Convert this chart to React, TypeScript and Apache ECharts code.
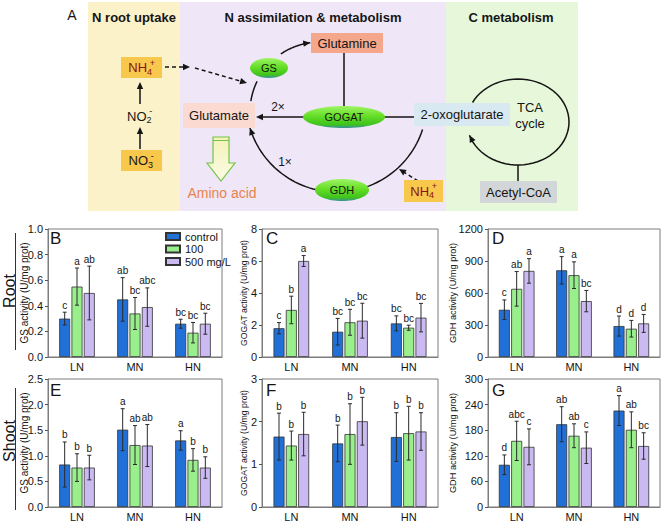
import React, { useEffect, useRef } from 'react';
import * as echarts from 'echarts';

const categories = ['LN', 'MN', 'HN'];
const treatments = ['control', '100', '500 mg/L'];

// rows: control, 100, 500 mg/L ; columns: LN, MN, HN
const rootGSMean = [[0.30, 0.45, 0.26], [0.55, 0.34, 0.19], [0.50, 0.39, 0.26]];
const rootGSErr = [[0.05, 0.17, 0.035], [0.145, 0.125, 0.08], [0.21, 0.15, 0.082]];
const rootGSLetters = [['c', 'ab', 'bc'], ['a', 'bc', 'bc'], ['ab', 'abc', 'bc']];

const rootGOGATMean = [[1.8, 1.58, 2.1], [2.94, 2.17, 1.83], [6.0, 2.27, 2.46]];
const rootGOGATErr = [[0.35, 0.83, 0.47], [0.86, 0.81, 0.16], [0.34, 1.09, 0.89]];
const rootGOGATLetters = [['c', 'bc', 'bc'], ['b', 'bc', 'bc'], ['a', 'bc', 'bc']];

const rootGDHMean = [[443, 813, 290], [639, 767, 265], [807, 524, 315]];
const rootGDHErr = [[92, 128, 94], [162, 125, 78], [115, 100, 84]];
const rootGDHLetters = [['c', 'a', 'd'], ['ab', 'a', 'd'], ['a', 'bc', 'd']];

const shootGSMean = [[0.83, 1.51, 1.30], [0.77, 1.21, 0.92], [0.77, 1.20, 0.77]];
const shootGSErr = [[0.44, 0.41, 0.19], [0.27, 0.38, 0.22], [0.24, 0.41, 0.21]];
const shootGSLetters = [['b', 'a', 'a'], ['b', 'ab', 'b'], ['b', 'ab', 'b']];

const shootGOGATMean = [[1.65, 1.49, 1.64], [1.44, 1.71, 1.73], [1.71, 2.01, 1.77]];
const shootGOGATErr = [[0.55, 0.43, 0.57], [0.34, 0.71, 0.63], [0.51, 0.56, 0.44]];
const shootGOGATLetters = [['b', 'b', 'b'], ['b', 'b', 'b'], ['b', 'b', 'b']];

const shootGDHMean = [[99, 194, 226], [155, 167, 181], [141, 139, 143]];
const shootGDHErr = [[23, 41, 35], [46, 28, 42], [42, 37, 31]];
const shootGDHLetters = [['d', 'ab', 'a'], ['abc', 'ab', 'ab'], ['c', 'c', 'bc']];

const panelLetters = ['B', 'C', 'D', 'E', 'F', 'G'];
const yAxisTitles = [
  'GS activity (U/mg prot)', 'GOGAT activity (U/mg prot)', 'GDH activity (U/mg prot)',
  'GS activity (U/mg prot)', 'GOGAT activity (U/mg prot)', 'GDH activity (U/mg prot)',
];
const yMaxima = [1.0, 8, 1200, 2.5, 3, 300];
const yIntervals = [0.2, 2, 300, 0.5, 1, 60];
const yDecimals = [1, 0, 0, 1, 0, 0];

const MEANS = [rootGSMean, rootGOGATMean, rootGDHMean, shootGSMean, shootGOGATMean, shootGDHMean];
const ERRS = [rootGSErr, rootGOGATErr, rootGDHErr, shootGSErr, shootGOGATErr, shootGDHErr];
const LETTERS = [rootGSLetters, rootGOGATLetters, rootGDHLetters, shootGSLetters, shootGOGATLetters, shootGDHLetters];

// layout
const GRIDS = [
  { left: 48, top: 229, width: 174, height: 128 },
  { left: 262, top: 229, width: 176, height: 128 },
  { left: 488, top: 229, width: 172, height: 128 },
  { left: 48, top: 379, width: 174, height: 129 },
  { left: 262, top: 379, width: 176, height: 129 },
  { left: 488, top: 379, width: 172, height: 129 },
];
const NAME_GAP = [19, 13.5, 30.5, 19, 13.5, 30.5];
const NAME_SIZE = [10, 8.7, 9.2, 10, 8.7, 9.2];
const BAR_COLORS = ['#2070d8', '#98ef8c', '#cbbaf2'];
const BAR_W = 11;
const BAR_GAP = 0.12;
const FAM = '"Liberation Sans", Arial, sans-serif';
const INK = '#151515';

let measureCtx: CanvasRenderingContext2D | null = null;
function measure(text: string, size: number, bold = false) {
  if (!measureCtx) measureCtx = document.createElement('canvas').getContext('2d');
  measureCtx!.font = `${bold ? 'bold ' : ''}${size}px ${FAM}`;
  return measureCtx!.measureText(text).width;
}

function txt(x: number, y: number, text: string, size: number, o: any = {}) {
  return {
    type: 'text', x, y, rotation: o.rotation || 0, silent: true,
    style: {
      text, fill: o.color || INK, fontSize: size, fontFamily: FAM,
      fontWeight: o.bold ? 'bold' : 'normal',
      align: o.align || 'center', verticalAlign: o.va || 'middle',
    },
  };
}
function rect(x: number, y: number, w: number, h: number, fill: string) {
  return { type: 'rect', silent: true, shape: { x, y, width: w, height: h }, style: { fill } };
}
function head(x: number, y: number, ang: number, len = 7, w = 3.2) {
  const bx = x - len * Math.cos(ang), by = y - len * Math.sin(ang);
  const px = -Math.sin(ang) * w, py = Math.cos(ang) * w;
  return { type: 'polygon', silent: true, shape: { points: [[x, y], [bx + px, by + py], [bx - px, by - py]] }, style: { fill: INK } };
}
function arrow(x1: number, y1: number, x2: number, y2: number, dashed = false) {
  const ang = Math.atan2(y2 - y1, x2 - x1);
  const ex = x2 - 6 * Math.cos(ang), ey = y2 - 6 * Math.sin(ang);
  return [
    { type: 'line', silent: true, shape: { x1, y1, x2: ex, y2: ey }, style: { stroke: INK, lineWidth: 1.5, lineDash: dashed ? [4, 3] : null } },
    head(x2, y2, ang),
  ];
}
function line(x1: number, y1: number, x2: number, y2: number, w = 1.5) {
  return { type: 'line', silent: true, shape: { x1, y1, x2, y2 }, style: { stroke: INK, lineWidth: w } };
}
function arc(cx: number, cy: number, rx: number, ry: number, a0: number, a1: number, withHead: boolean) {
  const pts: number[][] = [];
  const n = 60;
  for (let i = 0; i <= n; i++) {
    const t = ((a0 + ((a1 - a0) * i) / n) * Math.PI) / 180;
    pts.push([cx + rx * Math.cos(t), cy + ry * Math.sin(t)]);
  }
  const out: any[] = [{ type: 'polyline', silent: true, shape: { points: pts }, style: { stroke: INK, lineWidth: 1.5, fill: 'none' } }];
  if (withHead) {
    const a = pts[pts.length - 3], b = pts[pts.length - 1];
    out.push(head(b[0], b[1], Math.atan2(b[1] - a[1], b[0] - a[0])));
  }
  return out;
}
function chem(cx: number, cy: number, base: string, sub: string, sup: string, color: string, size = 13) {
  const small = Math.round(size * 0.7);
  const wb = measure(base, size), ws = measure(sub, small), wp = measure(sup, small);
  const total = wb + ws + wp * 0.5;
  const x0 = cx - total / 2;
  return [
    txt(x0, cy, base, size, { align: 'left', color }),
    txt(x0 + wb, cy + size * 0.32, sub, small, { align: 'left', color }),
    txt(x0 + wb + ws * 0.55, cy - size * 0.36, sup, small, { align: 'left', color }),
  ];
}
function blob(cx: number, cy: number, rx: number, ry: number, label: string) {
  return [
    {
      type: 'ellipse', silent: true, shape: { cx, cy, rx, ry },
      style: {
        fill: {
          type: 'linear', x: 0, y: 0, x2: 0, y2: 1,
          colorStops: [
            { offset: 0, color: '#9ef466' }, { offset: 0.45, color: '#66de26' },
            { offset: 0.85, color: '#3fc21c' }, { offset: 1, color: '#3a8fa0' },
          ],
        },
      },
    },
    txt(cx, cy, label, 11),
  ];
}

function buildDiagram() {
  const els: any[] = [];
  els.push(rect(88, 2, 92, 209, '#fcf2c9'), rect(180, 2, 266, 209, '#efe7f7'), rect(446, 2, 132, 209, '#e7f8da'));
  els.push(txt(72, 15, 'A', 14));
  els.push(txt(134, 17, 'N root uptake', 13, { bold: true }));
  els.push(txt(313, 17, 'N assimilation & metabolism', 13, { bold: true }));
  els.push(txt(511, 17, 'C metabolism', 13, { bold: true }));

  // N root uptake
  els.push(rect(121, 57, 41, 21, '#f8c84c'));
  els.push(...chem(141.5, 67.5, 'NH', '4', '+', '#8a1212'));
  els.push(...chem(140, 116, 'NO', '2', '-', INK));
  els.push(rect(121, 150, 41, 21, '#f8c84c'));
  els.push(...chem(141.5, 160.5, 'NO', '3', '-', INK));
  els.push(...arrow(140, 104, 140, 82));
  els.push(...arrow(140, 149, 140, 127));
  els.push(...arrow(165, 67, 190, 67, true));
  els.push(...arrow(195, 68, 247, 83, true));

  // cycle arcs
  els.push(...arc(320, 112, 70, 70, 189, 206, false));
  els.push(...arc(320, 112, 70, 70, 236, 262, true));
  els.push(...arc(336.5, 101.5, 90.5, 90.5, 18, 163, true));
  els.push(...arc(518, 122, 51, 43, 207, 522, true));

  els.push(line(344, 53, 344, 107));
  els.push(...arrow(304, 117, 256, 117));
  els.push(line(384, 117, 414, 117));
  els.push(line(518, 165, 518, 181));
  els.push(...arrow(418, 181, 399, 169, true));

  // boxes
  els.push(rect(311, 33, 72, 20, '#f5a78c'), txt(347, 43.5, 'Glutamine', 13));
  els.push(rect(183, 103, 72, 25, '#fbdad1'), txt(219, 115.5, 'Glutamate', 13));
  els.push(rect(414, 103, 96, 23, '#d9e9f2'), txt(462, 114.5, '2-oxoglutarate', 13));
  els.push(rect(480, 181, 77, 22, '#d3d6d8'), txt(518.5, 192, 'Acetyl-CoA', 13));
  els.push(rect(404, 180, 39, 22, '#f8c84c'));
  els.push(...chem(423.5, 191, 'NH', '4', '+', '#8a1212'));

  // enzymes
  els.push(...blob(269, 68, 19, 10, 'GS'));
  els.push(...blob(344, 117, 41, 11, 'GOGAT'));
  els.push(...blob(342, 190, 27, 11, 'GDH'));

  // amino acid hollow arrow
  els.push({
    type: 'polygon', silent: true,
    shape: { points: [[213, 137], [229, 137], [229, 163], [235, 163], [221, 181], [207, 163], [213, 163]] },
    style: {
      fill: { type: 'linear', x: 0, y: 0, x2: 0, y2: 1, colorStops: [{ offset: 0, color: '#f4f2b6' }, { offset: 1, color: '#fbfbe6' }] },
      stroke: '#74c44c', lineWidth: 1.2,
    },
  });
  els.push({ type: 'line', silent: true, shape: { x1: 213, y1: 140.5, x2: 229, y2: 140.5 }, style: { stroke: '#74c44c', lineWidth: 1 } });
  els.push(txt(222, 193, 'Amino acid', 14, { color: '#e8834e' }));

  els.push(txt(278, 107, '2×', 12), txt(285, 162, '1×', 12));
  els.push(txt(530, 107, 'TCA', 13), txt(530, 123, 'cycle', 13));

  // row labels
  els.push(txt(9, 291, 'Root', 16, { rotation: Math.PI / 2 }));
  els.push({ type: 'line', silent: true, shape: { x1: 15.5, y1: 233, x2: 15.5, y2: 350 }, style: { stroke: '#333', lineWidth: 1 } });
  els.push(txt(9, 441, 'Shoot', 16, { rotation: Math.PI / 2 }));
  els.push({ type: 'line', silent: true, shape: { x1: 15.5, y1: 388, x2: 15.5, y2: 510 }, style: { stroke: '#333', lineWidth: 1 } });

  // panel letters
  GRIDS.forEach((g, i) => {
    els.push(txt(g.left + 2 + (i % 3 === 0 ? 0 : 2), i < 3 ? 238.5 : 390.5, panelLetters[i], 17, { align: 'left' }));
  });
  return els;
}

function buildOption() {
  const xAxis: any[] = [];
  const yAxis: any[] = [];
  const series: any[] = [];
  GRIDS.forEach((g, i) => {
    xAxis.push({
      type: 'category', gridIndex: i, data: categories,
      axisLine: { lineStyle: { color: '#7d7d7d' } },
      axisTick: { alignWithLabel: true, length: 3, lineStyle: { color: '#555' } },
      axisLabel: { fontSize: 11, color: INK, margin: 4 },
    });
    const dec = yDecimals[i];
    yAxis.push({
      type: 'value', gridIndex: i, min: 0, max: yMaxima[i], interval: yIntervals[i],
      splitLine: { show: false },
      axisLine: { show: true, lineStyle: { color: '#7d7d7d' } },
      axisTick: { show: true, length: 3, lineStyle: { color: '#555' } },
      axisLabel: { fontSize: 11, color: INK, margin: 5, formatter: (v: number) => v.toFixed(dec) },
      name: yAxisTitles[i], nameLocation: 'middle', nameGap: NAME_GAP[i], nameMoveOverlap: false,
      nameTextStyle: { fontSize: NAME_SIZE[i], color: INK },
    });
    const mean = MEANS[i], err = ERRS[i], letters = LETTERS[i];
    treatments.forEach((t, s) => {
      series.push({
        type: 'bar', name: t, xAxisIndex: i, yAxisIndex: i, data: mean[s],
        barWidth: BAR_W, barGap: `${BAR_GAP * 100}%`,
        itemStyle: { color: BAR_COLORS[s], borderColor: '#333', borderWidth: 0.8 },
        emphasis: { disabled: true }, silent: true,
      });
    });
    const eData: number[][] = [];
    for (let s = 0; s < 3; s++) for (let c = 0; c < 3; c++) eData.push([c, s, mean[s][c], err[s][c]]);
    series.push({
      type: 'custom', xAxisIndex: i, yAxisIndex: i, data: eData, z: 5, silent: true,
      encode: { x: 0, y: 2 },
      renderItem: (params: any, api: any) => {
        const c = api.value(0), s = api.value(1), v = api.value(2), e = api.value(3);
        const base = api.coord([c, v]);
        const x = base[0] + (s - 1) * (BAR_W * (1 + BAR_GAP));
        const yT = api.coord([c, v + e])[1];
        const yB = api.coord([c, v - e])[1];
        const st = { stroke: '#2a2a2a', lineWidth: 1 };
        return {
          type: 'group',
          children: [
            { type: 'line', shape: { x1: x, y1: yT, x2: x, y2: yB }, style: st },
            { type: 'line', shape: { x1: x - 2, y1: yT, x2: x + 2, y2: yT }, style: st },
            { type: 'line', shape: { x1: x - 2, y1: yB, x2: x + 2, y2: yB }, style: st },
            {
              type: 'text', x, y: yT - 2,
              style: { text: letters[s][c], fill: INK, fontSize: 10, fontFamily: FAM, align: 'center', verticalAlign: 'bottom' },
            },
          ],
        };
      },
    });
  });

  return {
    animation: false,
    textStyle: { fontFamily: FAM },
    grid: GRIDS.map((g) => ({ ...g, show: true, borderColor: '#7d7d7d', borderWidth: 1, backgroundColor: 'transparent' })),
    xAxis, yAxis, series,
    legend: {
      data: treatments, left: 165, top: 231, orient: 'vertical', itemWidth: 14, itemHeight: 7, itemGap: 1.5,
      padding: 0, icon: 'rect', selectedMode: false,
      textStyle: { fontSize: 11, color: INK, lineHeight: 10 },
    },
    graphic: { elements: buildDiagram() },
  };
}

export default function App() {
  const ref = useRef<HTMLDivElement>(null);
  useEffect(() => {
    if (!ref.current) return;
    const chart = echarts.init(ref.current, null, { renderer: 'svg' });
    chart.setOption(buildOption() as any);
    return () => chart.dispose();
  }, []);
  return (
    <div
      ref={ref}
      style={{ position: 'absolute', left: 0, top: 0, width: 663, height: 522, background: '#fff' }}
    />
  );
}
